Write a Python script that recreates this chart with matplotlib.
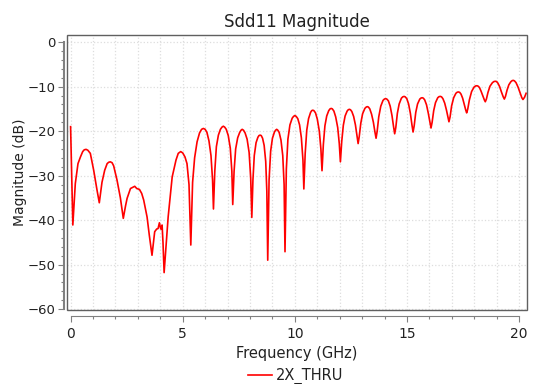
import matplotlib
matplotlib.use("Agg")
import matplotlib.pyplot as plt
from matplotlib.patches import Rectangle
from matplotlib.ticker import MultipleLocator

# ---- data (frequency in GHz, magnitude in dB) ----
freq_ghz = [
    0.00, 0.05, 0.10, 0.21, 0.33, 0.44, 0.54, 0.61, 0.69, 0.77, 0.88, 1.03, 1.18, 1.28,
    1.40, 1.52, 1.63, 1.70, 1.77, 1.85, 1.92, 2.07, 2.22, 2.35,
    2.45, 2.52, 2.67, 2.78, 2.86, 2.95, 3.07, 3.17, 3.26, 3.41, 3.51, 3.63,
    3.75, 3.84, 3.90, 3.96, 4.02, 4.05, 4.08, 4.12, 4.17,
    4.35, 4.53, 4.70, 4.80, 4.91, 5.00, 5.10, 5.19, 5.28, 5.36,
    5.44, 5.53, 5.64, 5.75, 5.84, 5.92, 6.00, 6.08, 6.17, 6.26, 6.33, 6.37,
    6.43, 6.50, 6.59, 6.68, 6.75, 6.81, 6.87, 6.94, 7.03, 7.12, 7.19, 7.23,
    7.29, 7.36, 7.45, 7.54, 7.60, 7.65, 7.71, 7.78, 7.87, 7.96, 8.03, 8.08,
    8.13, 8.19, 8.27, 8.35, 8.40, 8.45, 8.50, 8.56, 8.63, 8.70, 8.75, 8.79,
    8.85, 8.92, 9.00, 9.09, 9.14, 9.19, 9.24, 9.30, 9.38, 9.46, 9.52, 9.56,
    9.62, 9.69, 9.78, 9.88, 9.94, 10.00, 10.06, 10.13, 10.21, 10.29, 10.36, 10.40,
    10.46, 10.53, 10.61, 10.70, 10.75, 10.80, 10.85, 10.92, 11.00, 11.09, 11.16, 11.21,
    11.27, 11.34, 11.42, 11.51, 11.57, 11.62, 11.67, 11.74, 11.82, 11.91, 11.98, 12.03,
    12.09, 12.16, 12.24, 12.33, 12.38, 12.43, 12.48, 12.54, 12.62, 12.70, 12.77, 12.82,
    12.87, 12.94, 13.02, 13.12, 13.18, 13.23, 13.28, 13.34, 13.42, 13.50, 13.57, 13.62,
    13.67, 13.74, 13.83, 13.93, 13.99, 14.05, 14.10, 14.17, 14.25, 14.33, 14.40, 14.45,
    14.50, 14.57, 14.65, 14.75, 14.81, 14.87, 14.92, 14.99, 15.07, 15.15, 15.22, 15.27,
    15.32, 15.39, 15.47, 15.57, 15.63, 15.68, 15.73, 15.79, 15.87, 15.95, 16.02, 16.07,
    16.12, 16.19, 16.27, 16.37, 16.43, 16.49, 16.54, 16.60, 16.68, 16.76, 16.83, 16.87,
    16.92, 16.99, 17.08, 17.18, 17.24, 17.30, 17.35, 17.41, 17.48, 17.55, 17.62, 17.66,
    17.71, 17.78, 17.88, 17.99, 18.06, 18.12, 18.17, 18.23, 18.30, 18.38, 18.45, 18.49,
    18.54, 18.61, 18.70, 18.81, 18.88, 18.94, 18.99, 19.05, 19.13, 19.21, 19.29, 19.34,
    19.39, 19.46, 19.54, 19.63, 19.69, 19.74, 19.79, 19.86, 19.95, 20.04, 20.12, 20.17,
    20.24, 20.31,
]
sdd11_db = [
    -19.0, -30.0, -41.1, -31.8, -27.3, -25.8, -24.6, -24.2, -24.1, -24.3, -25.0, -28.8, -33.3, -36.1,
    -31.5, -28.8, -27.3, -27.0, -26.9, -27.1, -27.8, -31.0, -35.0, -39.6,
    -36.8, -35.1, -32.9, -32.6, -32.4, -32.9, -33.1, -34.0, -35.5, -39.3, -43.4, -47.9,
    -42.6, -42.0, -41.9, -40.6, -42.0, -41.9, -41.1, -45.0, -51.8,
    -39.3, -30.3, -26.5, -25.0, -24.6, -24.9, -25.8, -27.3, -32.0, -45.6,
    -31.5, -26.0, -22.4, -20.4, -19.6, -19.4, -19.6, -20.3, -22.2, -25.5, -31.0, -37.5,
    -29.0, -23.5, -20.9, -19.6, -19.1, -18.9, -19.1, -19.6, -21.0, -23.8, -29.0, -36.5,
    -29.0, -24.0, -21.5, -20.3, -19.8, -19.6, -19.8, -20.4, -21.8, -24.8, -30.5, -39.4,
    -31.0, -25.5, -22.6, -21.4, -21.0, -20.9, -21.0, -21.6, -23.2, -26.8, -33.5, -49.0,
    -31.0, -24.5, -21.6, -20.2, -19.8, -19.6, -19.8, -20.3, -22.0, -25.5, -32.0, -47.1,
    -28.5, -21.8, -18.6, -17.1, -16.7, -16.5, -16.7, -17.2, -18.6, -21.5, -26.5, -33.0,
    -25.0, -19.8, -17.2, -15.8, -15.4, -15.3, -15.4, -15.9, -17.3, -20.0, -24.0, -28.9,
    -23.0, -18.8, -16.6, -15.4, -15.0, -14.9, -15.0, -15.5, -16.8, -19.2, -22.8, -26.9,
    -22.3, -18.7, -16.6, -15.5, -15.2, -15.1, -15.2, -15.6, -16.7, -18.6, -21.0, -22.8,
    -21.2, -18.2, -16.1, -14.9, -14.6, -14.5, -14.6, -15.0, -16.2, -18.0, -20.2, -21.6,
    -20.0, -16.8, -14.4, -13.1, -12.8, -12.7, -12.8, -13.2, -14.4, -16.5, -19.0, -20.6,
    -19.2, -16.0, -13.9, -12.6, -12.3, -12.2, -12.3, -12.7, -13.9, -16.0, -18.6, -20.2,
    -18.8, -15.8, -13.9, -12.8, -12.55, -12.5, -12.6, -13.0, -14.1, -16.0, -18.0, -19.3,
    -18.0, -15.4, -13.6, -12.5, -12.25, -12.2, -12.3, -12.7, -13.7, -15.3, -17.0, -17.9,
    -16.8, -14.3, -12.5, -11.5, -11.25, -11.2, -11.3, -11.7, -12.6, -14.0, -15.3, -15.9,
    -15.0, -13.0, -11.1, -10.1, -9.85, -9.8, -9.9, -10.2, -11.0, -12.1, -13.0, -13.4,
    -12.8, -11.3, -9.9, -9.1, -8.85, -8.8, -8.85, -9.2, -10.0, -11.2, -12.3, -12.8,
    -12.2, -10.8, -9.6, -8.9, -8.65, -8.6, -8.7, -9.1, -10.1, -11.4, -12.5, -12.9,
    -12.4, -11.5,
]
series_label = "2X_THRU"
title_text = "Sdd11 Magnitude"
x_label = "Frequency (GHz)"
y_label = "Magnitude (dB)"

text_color = "#222222"
axis_color = "#808080"

fig = plt.figure(figsize=(5.35, 3.84), dpi=100)
ax = fig.add_axes([67 / 535, 1 - 310 / 384, (527 - 67) / 535, (310 - 35) / 384])

line, = ax.plot(freq_ghz, sdd11_db, color="#ff0000", linewidth=1.2, label=series_label)

ax.set_xlim(-0.16, 20.35)
ax.set_ylim(-60.2, 1.6)

ax.xaxis.set_major_locator(MultipleLocator(5))
ax.xaxis.set_minor_locator(MultipleLocator(1))
ax.yaxis.set_major_locator(MultipleLocator(10))
ax.yaxis.set_minor_locator(MultipleLocator(2))

ax.grid(True, which="major", axis="y", color="#dddddd", linestyle=":", linewidth=0.9)
ax.grid(True, which="both", axis="x", color="#dddddd", linestyle=":", linewidth=0.9)
ax.set_axisbelow(True)

# frame
for s in ["top", "right"]:
    ax.spines[s].set_visible(False)
frame = Rectangle((0, 0), 1, 1, transform=ax.transAxes, fill=False,
                  edgecolor="#606060", linewidth=1.0, clip_on=False, zorder=5)
ax.add_patch(frame)

ax.spines["left"].set_position(("outward", 2))
ax.spines["bottom"].set_position(("outward", 4))
ax.spines["left"].set_bounds(-60, 0)
ax.spines["bottom"].set_bounds(0, 20)
ax.spines["left"].set_color(axis_color)
ax.spines["bottom"].set_color(axis_color)
ax.spines["left"].set_linewidth(1.5)
ax.spines["bottom"].set_linewidth(0.8)

ax.tick_params(axis="both", which="major", direction="out", length=4, width=0.8,
               color=axis_color, labelsize=10, labelcolor=text_color)
ax.tick_params(axis="both", which="minor", direction="out", length=2.5, width=0.8,
               color=axis_color)
ax.tick_params(axis="x", which="major", pad=4)
ax.tick_params(axis="y", which="major", labelsize=9.5, pad=2.5)

ax.set_xticks([0, 5, 10, 15, 20])
ax.set_yticks([0, -10, -20, -30, -40, -50, -60])

ax.set_title(title_text, fontsize=12, color=text_color, pad=6)
ax.set_xlabel(x_label, fontsize=10.5, color=text_color, labelpad=4)
ax.set_ylabel(y_label, fontsize=10, color=text_color)
ax.yaxis.set_label_coords((27.5 - 67) / 460, 0.5)

fig.legend(handles=[line], loc="center", bbox_to_anchor=(296 / 535, 1 - 376 / 384),
           frameon=False, fontsize=10.5, handlelength=1.6, handletextpad=0.3,
           labelcolor=text_color)

fig.savefig("out.png", dpi=100)
